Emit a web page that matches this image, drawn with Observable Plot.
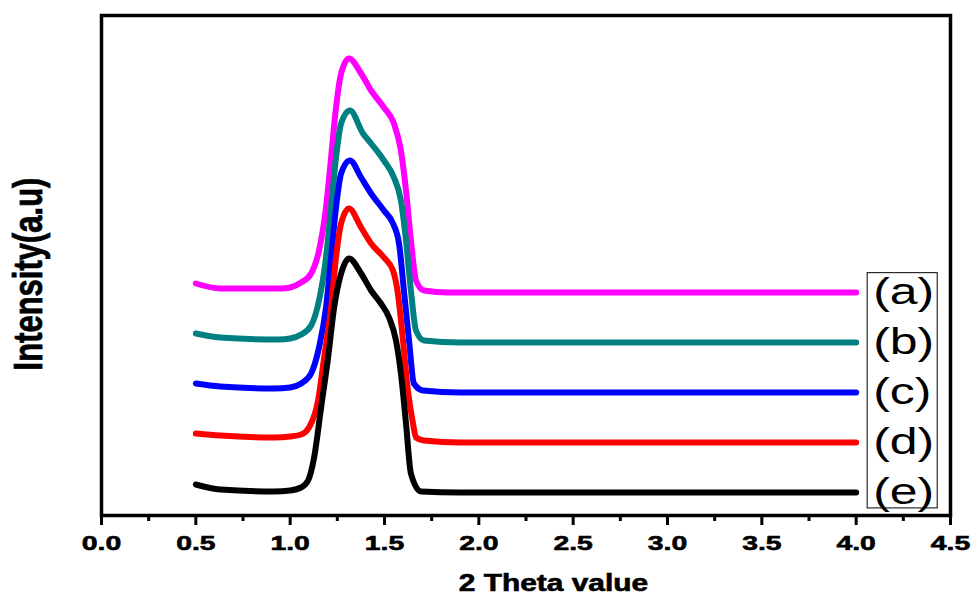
<!DOCTYPE html>
<html><head><meta charset="utf-8">
<script src="https://cdn.jsdelivr.net/npm/d3@7"></script>
<script src="https://cdn.jsdelivr.net/npm/@observablehq/plot@0.6"></script>
<style>body{margin:0;background:#fff;} svg{display:block;}</style>
</head><body><div id="chart"></div>
<script>
// Series labels and colours
const labels = ["(a)", "(b)", "(c)", "(d)", "(e)"];
const colors = ["#ff00ff", "#008080", "#0000ff", "#ff0000", "#000000"];

// (a) magenta
const xA = [0.50, 0.63, 0.95, 1.00, 1.058, 1.111, 1.153, 1.19, 1.217, 1.243, 1.27, 1.312, 1.376, 1.429, 1.497, 1.55, 1.587, 1.614, 1.64, 1.667, 1.709, 1.84, 4.00];
const yA = [232, 227, 227, 228, 233, 242, 265, 308, 358, 408, 442, 457, 442, 425, 408, 392, 365, 325, 275, 235, 225, 223, 223];
// (b) teal
const xB = [0.50, 0.63, 0.94, 1.00, 1.058, 1.111, 1.153, 1.19, 1.217, 1.243, 1.27, 1.317, 1.386, 1.429, 1.497, 1.55, 1.587, 1.614, 1.64, 1.667, 1.709, 1.90, 4.00];
const yB = [182, 178, 176, 177, 181, 190, 215, 258, 308, 358, 392, 405, 382, 372, 355, 338, 315, 275, 225, 185, 175, 173, 173];
// (c) blue
const xC = [0.50, 0.63, 0.915, 1.00, 1.058, 1.111, 1.153, 1.19, 1.217, 1.243, 1.27, 1.317, 1.376, 1.429, 1.497, 1.545, 1.577, 1.603, 1.63, 1.656, 1.704, 1.90, 4.00];
const yC = [132, 129, 127, 128, 132, 142, 168, 208, 258, 308, 342, 355, 338, 322, 305, 292, 272, 225, 175, 132, 125, 123, 123];
// (d) red
const xD = [0.50, 0.63, 0.915, 1.00, 1.058, 1.10, 1.148, 1.18, 1.217, 1.243, 1.27, 1.312, 1.376, 1.429, 1.497, 1.545, 1.571, 1.598, 1.624, 1.651, 1.667, 1.709, 1.90, 4.00];
const yD = [82, 80, 78, 79, 81, 88, 115, 158, 208, 258, 292, 307, 288, 272, 258, 245, 222, 175, 125, 92, 78, 75, 73, 73];
// (e) black
const xE = [0.50, 0.63, 0.915, 1.00, 1.058, 1.095, 1.127, 1.164, 1.201, 1.233, 1.27, 1.312, 1.376, 1.429, 1.481, 1.524, 1.561, 1.587, 1.614, 1.64, 1.693, 1.90, 4.00];
const yE = [31, 26, 24, 25, 28, 35, 58, 108, 158, 208, 242, 257, 242, 225, 212, 198, 175, 142, 92, 42, 24, 23, 23];

// Axis ticks and titles
const xTicks = [0, 0.5, 1, 1.5, 2, 2.5, 3, 3.5, 4, 4.5];
const xMinor = [0.25, 0.75, 1.25, 1.75, 2.25, 2.75, 3.25, 3.75, 4.25];
const xTitle = "2 Theta value";
const yTitle = "Intensity(a.u)";

const seriesX = [xA, xB, xC, xD, xE];
const seriesY = [yA, yB, yC, yD, yE];
const rows = labels.flatMap((label, i) => seriesX[i].map((x, j) => ({label, x, y: seriesY[i][j]})));
const legendRows = labels.map((label, i) => ({label, x: seriesX[i][seriesX[i].length - 1], y: seriesY[i][seriesY[i].length - 1]}));

const svg = Plot.plot({
  width: 974, height: 599,
  marginLeft: 101, marginRight: 24, marginTop: 15, marginBottom: 84,
  x: {domain: [0, 4.5]},
  y: {domain: [0, 500], axis: null},
  color: {domain: labels, range: colors},
  style: {fontFamily: "'Liberation Sans', Arial, sans-serif", background: "#fff", color: "#000"},
  marks: [
    Plot.line(rows, {x: "x", y: "y", z: "label", stroke: "label", strokeWidth: 6, curve: "monotone-x"}),
    Plot.frame({stroke: "#000", strokeWidth: 3.5}),
    Plot.axisX({ticks: xMinor, tickSize: 6, tickFormat: () => "", strokeWidth: 3, label: null}),
    Plot.axisX({ticks: xTicks, tickSize: 10, tickPadding: 10, tickFormat: d3.format(".1f"), strokeWidth: 3, fontSize: 21, fontWeight: "bold", label: null}),
    Plot.text([xTitle], {frameAnchor: "bottom", lineAnchor: "middle", textAnchor: "middle", dx: 27.5, dy: 68.6, fontSize: 23, fontWeight: "bold"}),
    Plot.text([yTitle], {frameAnchor: "left", rotate: -90, textAnchor: "middle", lineAnchor: "middle", dx: -72, dy: 8.5, fontSize: 31, fontWeight: "bold"}),
    Plot.text(legendRows, {x: "x", y: "y", text: "label", dx: 17, dy: 0, textAnchor: "start", lineAnchor: "middle", fontSize: 37})
  ]
});
document.getElementById("chart").appendChild(svg);

// Horizontal stretch of glyphs to mimic the reference's wide, heavy lettering
const allTexts = [...svg.querySelectorAll("text")];
allTexts.forEach(t => {
  const txt = t.textContent;
  const isLegend = labels.includes(txt);
  let s = " scale(1.35,1)";
  if (txt === yTitle) s = " scale(1,1.3)";
  else if (txt === xTitle) s = " scale(1.3,1)";
  const tr = t.getAttribute("transform") || "";
  t.setAttribute("transform", tr + s);
  if (!isLegend) {
    t.style.stroke = "#000";
    t.style.strokeWidth = "0.6px";
  }
});

// Legend box around the legend labels
const legendTexts = allTexts.filter(t => labels.includes(t.textContent));
if (legendTexts.length) {
  const sr = svg.getBoundingClientRect();
  let x0 = Infinity, y0 = Infinity, x1 = -Infinity, y1 = -Infinity;
  legendTexts.forEach(t => {
    const b = t.getBoundingClientRect();
    x0 = Math.min(x0, b.left - sr.left); y0 = Math.min(y0, b.top - sr.top);
    x1 = Math.max(x1, b.right - sr.left); y1 = Math.max(y1, b.bottom - sr.top);
  });
  const r = document.createElementNS("http://www.w3.org/2000/svg", "rect");
  r.setAttribute("x", x0 - 6);
  r.setAttribute("y", y0 + 2);
  r.setAttribute("width", x1 - x0 + 9);
  r.setAttribute("height", y1 - y0 - 6);
  r.setAttribute("fill", "none");
  r.setAttribute("stroke", "#000");
  r.setAttribute("stroke-width", 1);
  svg.appendChild(r);
}
</script>
</body></html>
